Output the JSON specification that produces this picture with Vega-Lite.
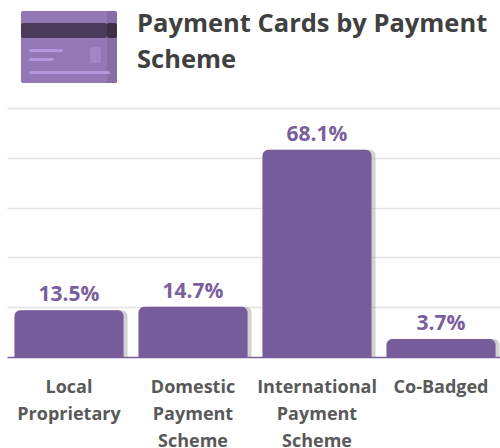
{
"$schema":"https://vega.github.io/schema/vega-lite/v6.json",
"padding":{"left":7,"top":0,"right":0,"bottom":0},
"background":"white",
"spacing":0,
"config":{"view":{"stroke":null},"concat":{"spacing":0}},
"vconcat":[
{
"width":493,"height":108,
"title":{"text":["Payment Cards by Payment","Scheme"],"anchor":"start","frame":"group","orient":"top","offset":-93,"dx":130,"font":"Open Sans","fontSize":25.5,"fontWeight":"bold","color":"#404040","lineHeight":36,"baseline":"alphabetic"},
"data":{"values":[
{"part":"card","x0":21,"x1":117,"y0":11,"y1":83,"c":"#9478b5"},
{"part":"edge","x0":107,"x1":117,"y0":11,"y1":83,"c":"#886ca6"},
{"part":"stripe","x0":21,"x1":107,"y0":23,"y1":38,"c":"#4b3a5c"},
{"part":"stripe end","x0":107,"x1":117,"y0":23,"y1":38,"c":"#3e3049"},
{"part":"line 1","x0":29,"x1":63,"y0":49,"y1":52,"c":"#b596dd"},
{"part":"line 2","x0":29,"x1":54,"y0":58,"y1":61,"c":"#b596dd"},
{"part":"line 3","x0":29,"x1":110,"y0":71,"y1":74,"c":"#b596dd"},
{"part":"chip","x0":90,"x1":101,"y0":47,"y1":63,"c":"#a285c4"}
]},
"mark":{"type":"rect","cornerRadius":2},
"encoding":{
"x":{"field":"x0","type":"quantitative","scale":{"domain":[7,500]},"axis":null},
"x2":{"field":"x1"},
"y":{"field":"y0","type":"quantitative","scale":{"domain":[108,0]},"axis":null},
"y2":{"field":"y1"},
"color":{"field":"c","type":"nominal","scale":null}
}
},
{
"width":496,"height":249,
"data":{"values":[
{"label":"Local|Proprietary","value":13.5,"text":"13.5%"},
{"label":"Domestic|Payment|Scheme","value":14.7,"text":"14.7%"},
{"label":"International|Payment|Scheme","value":68.1,"text":"68.1%"},
{"label":"Co-Badged","value":3.7,"text":"3.7%"}
]},
"encoding":{
"x":{"field":"label","type":"nominal","sort":null,"title":null,"scale":{"paddingInner":0.12,"paddingOuter":0.06},
"axis":{"labelExpr":"split(datum.label,'|')","labelAngle":0,"labelFont":"Open Sans","labelFontSize":18,"labelFontWeight":"bold","labelColor":"#595959","labelPadding":30,"labelLineHeight":27,"labelBaseline":"middle","ticks":false,"domainColor":"#7a5c9c","domainWidth":1.5,"grid":false,"labelLimit":200}},
"y":{"field":"value","type":"quantitative","scale":{"domain":[-2.44,82.3]},"title":null,
"axis":{"values":[14.51,31.46,48.41,65.35,82.3],"labels":false,"ticks":false,"domain":false,"grid":true,"gridColor":"#e3e3e3","gridWidth":1.5}}
},
"layer":[
{"mark":{"type":"bar","xOffset":4,"color":"#8f8f8f","opacity":0.4,"cornerRadiusTopLeft":6,"cornerRadiusTopRight":6},"encoding":{"y2":{"datum":-2.44}}},
{"mark":{"type":"bar","color":"#775c9b","cornerRadiusTopLeft":6,"cornerRadiusTopRight":6},"encoding":{"y2":{"datum":-2.44}}},
{"mark":{"type":"text","font":"Open Sans","fontSize":21,"fontWeight":"bold","color":"#7a5f9e","baseline":"bottom","dy":-5},"encoding":{"text":{"field":"text"}}}
]
}
]
}
